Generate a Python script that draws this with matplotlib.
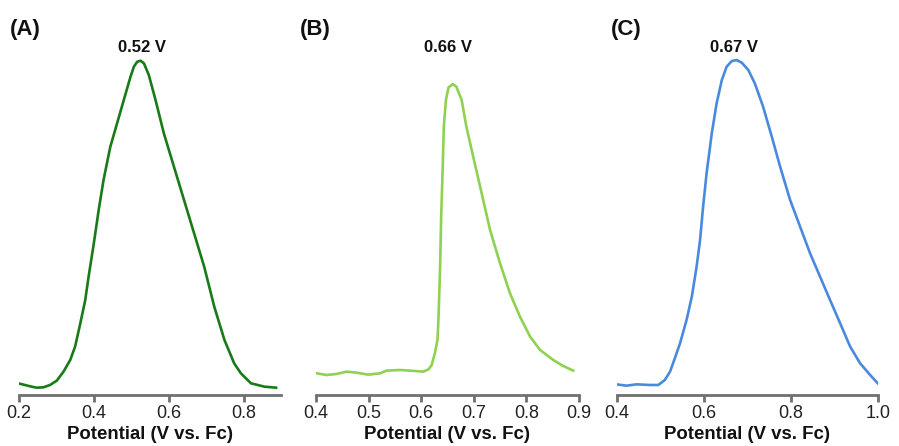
import matplotlib
matplotlib.use('Agg')
import matplotlib.pyplot as plt
import matplotlib.transforms as mtransforms

plt.rcParams['font.family'] = ['Liberation Sans', 'DejaVu Sans']

# (A) potential (V vs. Fc) / normalised current (a.u.)
pot_a = [0.198, 0.216, 0.234, 0.247, 0.265, 0.283, 0.301, 0.319, 0.337, 0.350,
         0.364, 0.377, 0.386, 0.400, 0.413, 0.426, 0.444, 0.462, 0.480, 0.498,
         0.507, 0.516, 0.525, 0.534, 0.547, 0.565, 0.587, 0.614, 0.641, 0.668,
         0.695, 0.722, 0.749, 0.775, 0.793, 0.820, 0.856, 0.887]
cur_a = [0.035, 0.030, 0.025, 0.022, 0.023, 0.030, 0.043, 0.070, 0.105, 0.145,
         0.215, 0.284, 0.354, 0.454, 0.554, 0.644, 0.743, 0.813, 0.883, 0.953,
         0.983, 0.998, 1.001, 0.993, 0.958, 0.883, 0.784, 0.684, 0.584, 0.484,
         0.384, 0.264, 0.165, 0.095, 0.065, 0.035, 0.025, 0.022]

# (B)
pot_b = [0.401, 0.420, 0.439, 0.458, 0.477, 0.499, 0.522, 0.534, 0.560, 0.579,
         0.604, 0.614, 0.620, 0.626, 0.631, 0.633, 0.636, 0.638, 0.641, 0.643,
         0.647, 0.652, 0.660, 0.667, 0.677, 0.686, 0.699, 0.715, 0.731, 0.750,
         0.769, 0.788, 0.807, 0.826, 0.851, 0.870, 0.889]
cur_b = [0.065, 0.060, 0.063, 0.070, 0.067, 0.061, 0.065, 0.073, 0.075, 0.073,
         0.070, 0.077, 0.090, 0.125, 0.165, 0.234, 0.384, 0.534, 0.684, 0.803,
         0.883, 0.921, 0.931, 0.923, 0.883, 0.803, 0.713, 0.604, 0.494, 0.394,
         0.304, 0.234, 0.175, 0.135, 0.105, 0.087, 0.073]

# (C)
pot_c = [0.398, 0.422, 0.445, 0.476, 0.495, 0.510, 0.522, 0.533, 0.545, 0.560,
         0.572, 0.583, 0.591, 0.598, 0.606, 0.618, 0.629, 0.641, 0.652, 0.664,
         0.675, 0.687, 0.702, 0.717, 0.736, 0.756, 0.775, 0.798, 0.821, 0.844,
         0.867, 0.890, 0.913, 0.936, 0.959, 0.982, 1.001]
cur_c = [0.032, 0.028, 0.032, 0.030, 0.030, 0.045, 0.070, 0.110, 0.155, 0.225,
         0.294, 0.384, 0.464, 0.564, 0.664, 0.784, 0.873, 0.943, 0.983, 1.000,
         1.003, 0.995, 0.973, 0.933, 0.863, 0.773, 0.684, 0.584, 0.504, 0.424,
         0.354, 0.284, 0.215, 0.145, 0.095, 0.060, 0.033]

panels = ['(A)', '(B)', '(C)']
panel_x = [0.011, 0.334, 0.679]
peak_labels = ['0.52 V', '0.66 V', '0.67 V']
peak_label_x = [0.528, 0.651, 0.669]
xlims = [(0.2, 0.9), (0.4, 0.9), (0.4, 1.0)]
xticks = [[0.2, 0.4, 0.6, 0.8], [0.4, 0.5, 0.6, 0.7, 0.8, 0.9],
          [0.4, 0.6, 0.8, 1.0]]
colors = ['#187a18', '#8fd150', '#4a8ade']
pots = [pot_a, pot_b, pot_c]
curs = [cur_a, cur_b, cur_c]

fig = plt.figure(figsize=(8.99, 4.46), dpi=100)
rects = [[0.0211, 0.1143, 0.2914, 0.796],
         [0.3515, 0.1143, 0.2925, 0.796],
         [0.6863, 0.1143, 0.2903, 0.796]]

for i in range(3):
    ax = fig.add_axes(rects[i])
    ax.plot(pots[i], curs[i], color=colors[i], lw=1.9,
            solid_joinstyle='round')
    ax.set_xlim(*xlims[i])
    ax.set_ylim(0, 1.063)
    ax.set_xticks(xticks[i])
    ax.set_xticklabels(['{:.1f}'.format(t) for t in xticks[i]])
    ax.set_yticks([])
    for s in ['top', 'right', 'left']:
        ax.spines[s].set_visible(False)
    ax.spines['bottom'].set_color('#707070')
    ax.spines['bottom'].set_linewidth(2.0)
    ax.tick_params(axis='x', colors='#707070', width=2.0, length=5,
                   labelsize=13, labelcolor='#222222', pad=2)
    ax.set_xlabel('Potential (V vs. Fc)', fontsize=13.4, fontweight='bold',
                  labelpad=3, color='#111111')
    trans = mtransforms.blended_transform_factory(ax.transData, ax.transAxes)
    ax.text(peak_label_x[i], 0.978, peak_labels[i], transform=trans,
            ha='center', va='center', fontsize=12, fontweight='bold',
            color='#111111')
    fig.text(panel_x[i], 0.933, panels[i], fontsize=16, fontweight='bold',
             va='center', ha='left', color='#111111')

fig.savefig('out.png', dpi=100)
